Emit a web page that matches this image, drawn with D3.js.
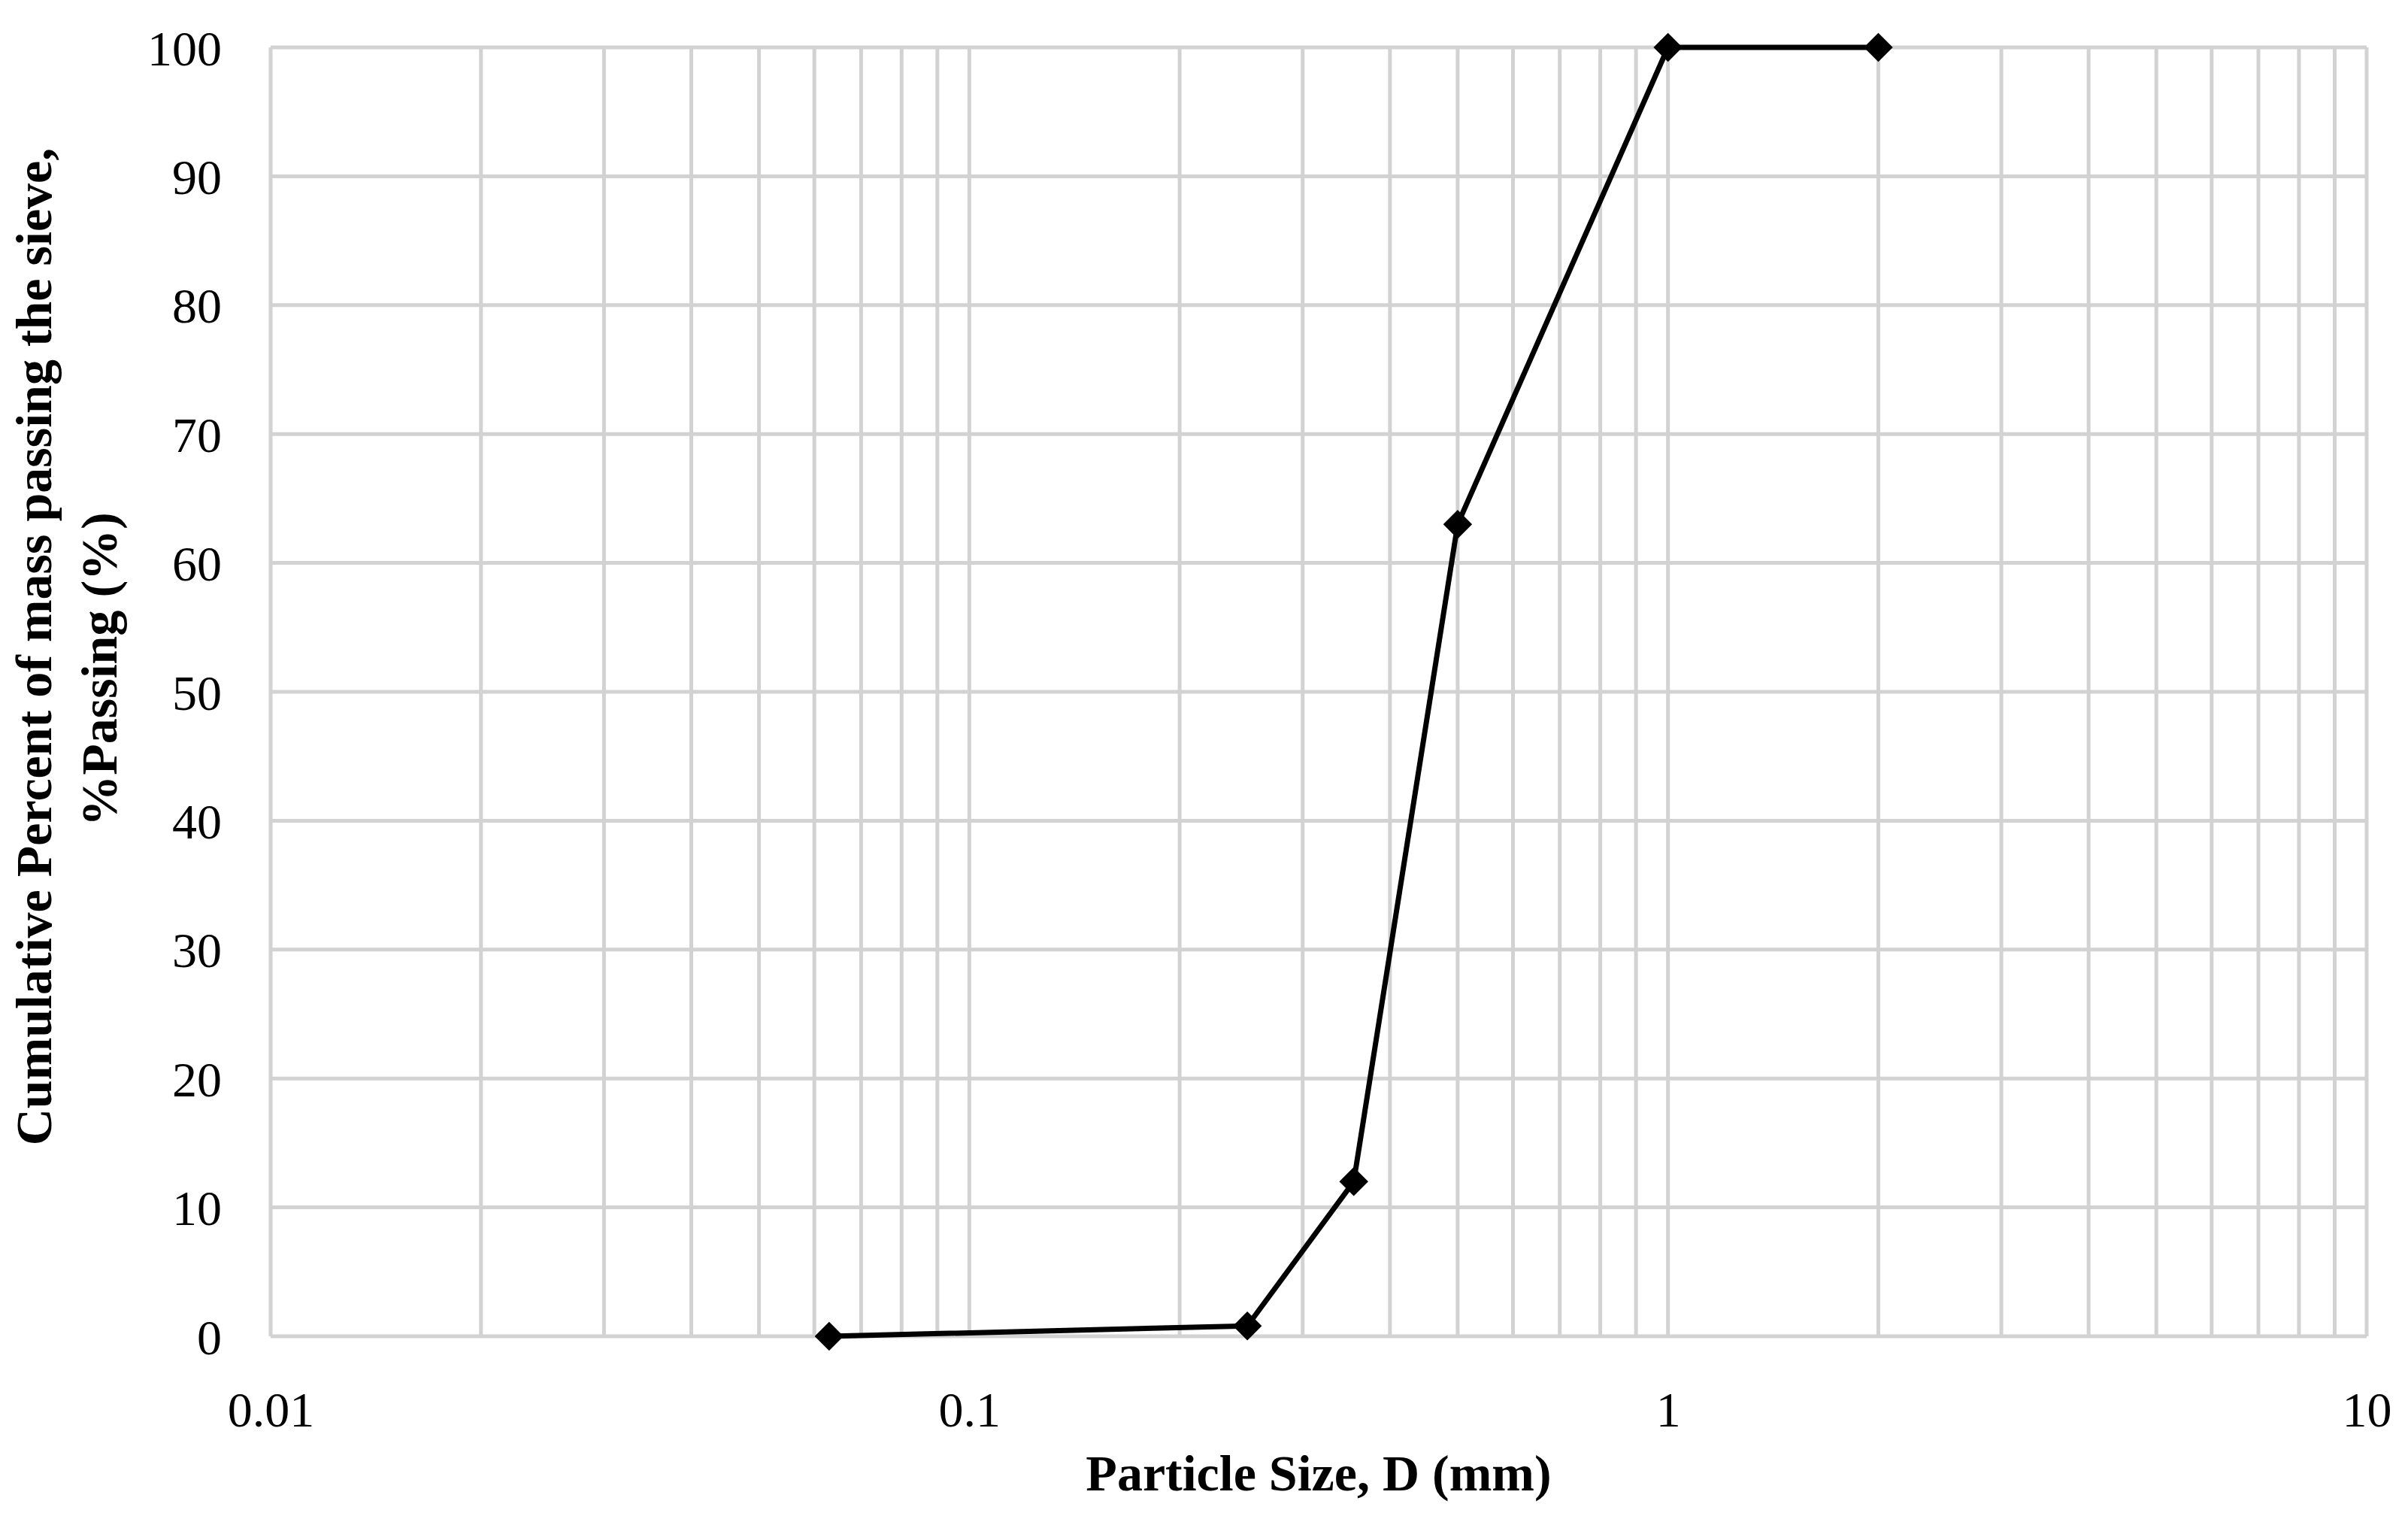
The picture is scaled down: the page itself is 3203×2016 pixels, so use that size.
<!DOCTYPE html>
<html>
<head>
<meta charset="utf-8">
<script src="https://cdn.jsdelivr.net/npm/d3@7"></script>
<style>
  html, body { margin: 0; padding: 0; background: #fff; }
  svg { display: block; }
  .tick-label { font-family: "Liberation Serif", "DejaVu Serif", serif; font-size: 66px; fill: #000; }
  .axis-title { font-family: "Liberation Serif", "DejaVu Serif", serif; font-size: 68px; font-weight: bold; fill: #000; }
</style>
</head>
<body>
<svg id="chart"></svg>
<script>
// sieve sizes (mm) and cumulative % passing
const sizes = [0.063, 0.25, 0.355, 0.5, 1, 2];
const passing = [0, 0.8, 12, 63, 100, 100];

const xTicks = [0.01, 0.1, 1, 10];
const xTickLabels = ["0.01", "0.1", "1", "10"];
const yTicks = [0, 10, 20, 30, 40, 50, 60, 70, 80, 90, 100];

const xTitle = "Particle Size, D (mm)";
const yTitleLines = ["Cumulative Percent of mass passing the sieve,", "%Passing (%)"];

const config = {
  width: 3203,
  height: 2016,
  margin: {top: 63, right: 55, bottom: 239, left: 360}
};

let vis = {};
vis.innerW = config.width - config.margin.left - config.margin.right;
vis.innerH = config.height - config.margin.top - config.margin.bottom;

vis.svg = d3.select('#chart')
  .attr('width', config.width)
  .attr('height', config.height);

vis.chart = vis.svg.append('g')
  .attr('transform', `translate(${config.margin.left}, ${config.margin.top})`);

vis.xScale = d3.scaleLog()
  .domain([0.01, 10])
  .range([0, vis.innerW]);

vis.yScale = d3.scaleLinear()
  .domain([0, 100])
  .range([vis.innerH, 0]);

// minor log gridlines 1..9 in every decade
const gridX = [];
for (let dec = 0; dec < xTicks.length - 1; dec++) {
  for (let m = 1; m <= 9; m++) gridX.push(xTicks[dec] * m);
}
gridX.push(xTicks[xTicks.length - 1]);

const gridColor = '#d2d2d2';

vis.chart.append('g')
  .selectAll('line')
  .data(gridX)
  .join('line')
  .attr('x1', d => vis.xScale(d))
  .attr('x2', d => vis.xScale(d))
  .attr('y1', 0)
  .attr('y2', vis.innerH)
  .attr('stroke', gridColor)
  .attr('stroke-width', 5);

vis.chart.append('g')
  .selectAll('line')
  .data(yTicks)
  .join('line')
  .attr('x1', 0)
  .attr('x2', vis.innerW)
  .attr('y1', d => vis.yScale(d))
  .attr('y2', d => vis.yScale(d))
  .attr('stroke', gridColor)
  .attr('stroke-width', 5);

// axes: labels only, lines come from the grid
vis.xAxis = d3.axisBottom(vis.xScale)
  .tickValues(xTicks)
  .tickFormat((d, i) => xTickLabels[i])
  .tickSize(0)
  .tickPadding(73);

vis.yAxis = d3.axisLeft(vis.yScale)
  .tickValues(yTicks)
  .tickFormat(d3.format('d'))
  .tickSize(0)
  .tickPadding(65);

vis.xAxisGroup = vis.chart.append('g')
  .attr('transform', `translate(0, ${vis.innerH})`)
  .call(vis.xAxis);

vis.yAxisGroup = vis.chart.append('g')
  .call(vis.yAxis);

[vis.xAxisGroup, vis.yAxisGroup].forEach(g => {
  g.select('.domain').remove();
  g.selectAll('text')
    .attr('class', 'tick-label')
    .attr('font-size', null)
    .attr('font-family', null);
  g.attr('font-size', null).attr('font-family', null);
});
vis.xAxisGroup.selectAll('text').attr('dy', '0.71em');
vis.yAxisGroup.selectAll('text').attr('dy', '0.35em');

// series
const points = sizes.map((s, i) => ({x: s, y: passing[i]}));

vis.line = d3.line()
  .x(d => vis.xScale(d.x))
  .y(d => vis.yScale(d.y));

vis.chart.append('path')
  .datum(points)
  .attr('fill', 'none')
  .attr('stroke', '#000')
  .attr('stroke-width', 7)
  .attr('stroke-linejoin', 'round')
  .attr('d', vis.line);

vis.chart.append('g')
  .selectAll('path')
  .data(points)
  .join('path')
  .attr('d', d3.symbol(d3.symbolSquare, 740))
  .attr('fill', '#000')
  .attr('transform', d => `translate(${vis.xScale(d.x)}, ${vis.yScale(d.y)}) rotate(45)`);

// titles
vis.svg.append('text')
  .attr('class', 'axis-title')
  .attr('x', config.margin.left + vis.innerW / 2)
  .attr('y', 1982)
  .attr('text-anchor', 'middle')
  .text(xTitle);

const yTitleX = [68, 155];
const yTitleY = [860, 890];
yTitleLines.forEach((t, i) => {
  vis.svg.append('text')
    .attr('class', 'axis-title')
    .attr('text-anchor', 'middle')
    .attr('transform', `translate(${yTitleX[i]}, ${yTitleY[i]}) rotate(-90)`)
    .text(t);
});
</script>
</body>
</html>
